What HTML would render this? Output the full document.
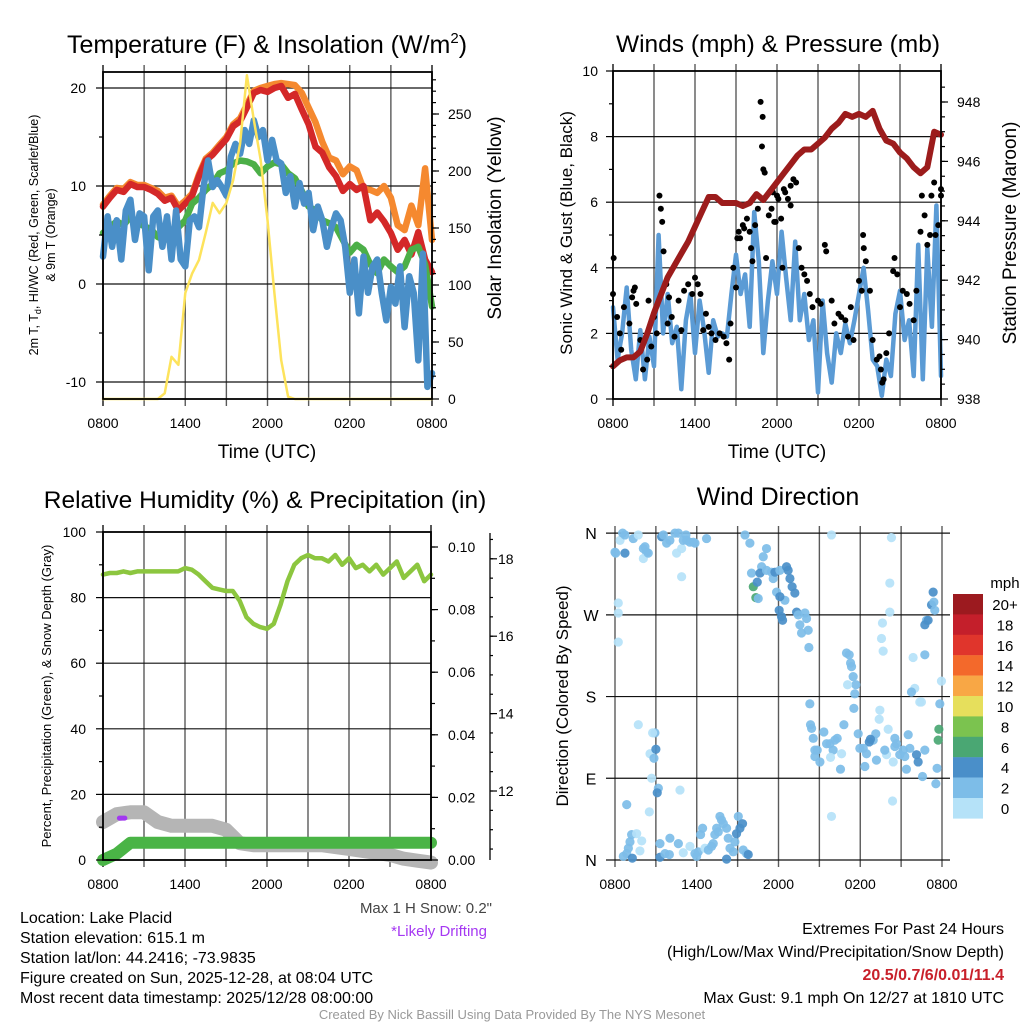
<!DOCTYPE html>
<html><head><meta charset="utf-8"><title>Lake Placid Mesonet</title>
<style>
body{margin:0;background:#fff;}
svg{display:block;font-family:"Liberation Sans",Arial,sans-serif;}
</style></head>
<body>
<svg id="chart" width="1024" height="1024" viewBox="0 0 1024 1024" xmlns="http://www.w3.org/2000/svg">
<rect x="0" y="0" width="1024" height="1024" fill="#fff"/>
<g id="p1"></g>
<g id="p2"></g>
<g id="p3"></g>
<g id="p4"></g>
<g id="txt">
<text x="267" y="53" font-size="25" text-anchor="middle">Temperature (F) &amp; Insolation (W/m<tspan font-size="15" dy="-10">2</tspan><tspan dy="10">)</tspan></text>
<text x="778" y="52" font-size="24.5" text-anchor="middle">Winds (mph) &amp; Pressure (mb)</text>
<text x="265" y="508" font-size="24.5" text-anchor="middle">Relative Humidity (%) &amp; Precipitation (in)</text>
<text x="778" y="505" font-size="25" text-anchor="middle">Wind Direction</text>
<text x="267" y="458" font-size="19" text-anchor="middle">Time (UTC)</text>
<text x="777" y="458" font-size="19" text-anchor="middle">Time (UTC)</text>
<text transform="translate(38,235) rotate(-90)" font-size="12.5" text-anchor="middle">2m T, T<tspan font-size="9" dy="3">d</tspan><tspan dy="-3">, HI/WC (Red, Green, Scarlet/Blue)</tspan></text>
<text transform="translate(55,235) rotate(-90)" font-size="12.5" text-anchor="middle">&amp; 9m T (Orange)</text>
<text transform="translate(501,218) rotate(-90)" font-size="19" text-anchor="middle">Solar Insolation (Yellow)</text>
<text transform="translate(572,233) rotate(-90)" font-size="17" text-anchor="middle">Sonic Wind &amp; Gust (Blue, Black)</text>
<text transform="translate(1016,233) rotate(-90)" font-size="19" text-anchor="middle">Station Pressure (Maroon)</text>
<text transform="translate(51,696) rotate(-90)" font-size="13" text-anchor="middle">Percent, Precipitation (Green), &amp; Snow Depth (Gray)</text>
<text transform="translate(568,696) rotate(-90)" font-size="17" text-anchor="middle">Direction (Colored By Speed)</text>
<text x="492" y="913" font-size="15" fill="#444" text-anchor="end">Max 1 H Snow: 0.2"</text>
<text x="487" y="936" font-size="15" fill="#a538f2" text-anchor="end">*Likely Drifting</text>
<g font-size="16">
<text x="20" y="923">Location: Lake Placid</text>
<text x="20" y="943">Station elevation: 615.1 m</text>
<text x="20" y="963">Station lat/lon: 44.2416; -73.9835</text>
<text x="20" y="983">Figure created on Sun, 2025-12-28, at 08:04 UTC</text>
<text x="20" y="1003">Most recent data timestamp: 2025/12/28 08:00:00</text>
</g>
<g font-size="16" text-anchor="end">
<text x="1004" y="934">Extremes For Past 24 Hours</text>
<text x="1004" y="957">(High/Low/Max Wind/Precipitation/Snow Depth)</text>
<text x="1004" y="980" fill="#c8202a" font-weight="bold">20.5/0.7/6/0.01/11.4</text>
<text x="1004" y="1003">Max Gust: 9.1 mph On 12/27 at 1810 UTC</text>
</g>
<text x="512" y="1019" font-size="13" fill="#999" text-anchor="middle">Created By Nick Bassill Using Data Provided By The NYS Mesonet</text>
</g>
</svg>
<script>
// ---------- DATA ----------
const timeLabels = ["0800","1400","2000","0200","0800"];
// Panel 1 (half-hourly, 49 pts)
const tempRed = [7.9,8.8,9.6,9.4,10.2,9.9,9.9,9.6,9.2,8.5,8.8,7.5,8.2,9.0,11.0,12.6,13.2,14.0,14.8,16.1,16.6,18.0,19.5,19.8,19.6,20.0,20.2,19.0,19.4,17.8,16.3,14.0,13.4,11.9,11.0,9.5,10.2,9.6,10.0,6.5,7.3,6.4,5.2,3.5,4.5,3.0,5.3,2.5,1.2];
const tempOrange = [8.1,9.0,9.8,9.7,10.4,10.1,10.1,9.8,9.5,8.8,9.0,7.9,8.5,9.2,11.2,12.8,13.4,14.2,15.0,16.3,16.9,18.3,19.7,20.0,20.2,20.4,20.5,20.4,20.3,19.5,18.0,16.5,14.5,12.9,12.6,11.2,12.0,11.6,9.7,9.6,9.3,10.0,8.8,6.0,5.5,8.0,6.0,11.8,4.5];
const dewGreen = [5.2,5.8,6.4,6.0,6.9,6.3,5.9,5.6,4.8,4.5,5.2,5.8,6.5,8.2,8.8,9.6,10.2,11.3,11.6,12.3,12.6,12.5,12.2,11.3,12.0,12.4,12.2,11.3,10.8,9.5,7.9,7.5,6.5,6.2,5.8,4.5,3.2,4.0,3.5,2.0,1.1,2.5,1.8,1.2,1.8,3.5,3.8,2.0,-2.3];
const solarYellow = [0,0,0,0,0,0,0,0,0,5,37,30,93,110,122,146,172,163,172,192,224,284,245,210,157,93,34,2,0,0,0,0,0,0,0,0,0,0,0,0,0,0,0,0,0,0,0,0,0];
// 20-minute (73 pts)
const windChillBlue = [2.8,6.9,3.8,6.5,2.5,7.5,8.6,4.5,7.2,6.9,1.4,6.9,7.5,3.8,6.9,2.5,7.5,2.5,1.8,6.5,6.9,5.8,9.9,12.6,9.9,10.6,9.9,9.0,13.0,14.3,13.3,15.7,14.3,16.7,15.0,15.7,12.6,14.7,12.6,12.3,9.3,11.0,7.9,10.3,8.2,9.3,5.5,7.9,6.5,3.8,5.8,7.2,6.5,3.8,-0.9,2.5,-3.0,2.8,-0.9,1.8,2.5,-0.9,-3.7,-0.3,-2.0,1.8,-4.4,0.8,-0.9,-7.8,3.1,-10.5,-9.1];
// Panel 2
const windSpeed = [2.8,1.2,2.0,3.4,1.5,0.6,2.1,0.6,1.9,1.0,5.0,2.0,3.2,1.7,2.2,0.3,2.4,3.2,1.4,3.0,2.1,0.8,2.4,1.9,2.0,1.9,3.2,4.4,3.2,3.8,2.2,5.7,4.2,1.4,3.0,4.2,3.2,5.1,3.7,2.4,4.8,2.4,3.2,1.8,2.4,0.2,3.0,1.4,0.5,2.0,1.4,2.3,1.7,2.4,3.2,4.0,2.7,1.2,1.0,0.1,1.2,0.7,2.6,3.3,1.8,2.4,0.7,4.7,0.6,4.6,2.2,5.9,0.7];
const pressure = [939.1,939.3,939.4,939.4,939.6,940.2,940.9,941.5,942.1,942.5,942.9,943.3,943.8,944.3,944.8,944.8,944.6,944.6,944.6,944.5,944.6,944.9,944.7,945.0,945.3,945.6,945.9,946.2,946.4,946.4,946.6,946.8,947.1,947.3,947.6,947.5,947.6,947.5,947.7,947.1,946.7,946.6,946.3,946.1,945.8,945.6,945.8,947.0,946.9];
const gustHours = [0.05,0,0.3,0.5,0.6,0.8,1.2,1.4,1.5,1.6,1.7,2.0,2.2,2.5,2.6,2.8,3.0,3.2,3.4,3.5,3.6,3.7,3.9,4.0,4.1,4.3,4.5,4.8,5.0,5.2,5.5,5.8,6.0,6.2,6.4,6.6,6.8,7.0,7.2,7.5,7.8,8.1,8.3,8.5,8.6,8.8,9.0,9.1,9.2,9.3,9.5,9.6,9.8,10.0,10.1,10.2,10.4,10.6,10.8,10.9,10.95,11.0,11.1,11.2,11.4,11.6,11.7,11.8,11.9,12.0,12.1,12.3,12.4,12.5,12.6,12.8,13.0,13.0,13.2,13.4,13.6,13.8,14.0,14.2,14.4,14.6,15.0,15.2,15.5,15.6,16.0,16.2,16.5,16.7,17.0,17.2,17.4,17.6,18.0,18.2,18.3,18.35,18.5,18.8,19.0,19.3,19.5,19.6,19.7,19.8,20.0,20.2,20.5,20.6,20.8,21.0,21.2,21.5,21.7,22.0,22.2,22.5,22.6,22.8,23.0,23.2,23.3,23.5,23.6,23.8,24,24];
const gustValues = [4.3,3.2,2.5,2.0,1.5,2.8,2.3,3.1,3.3,3.4,2.9,1.8,0.9,1.2,3.0,1.6,2.5,2.0,6.2,5.8,5.4,4.5,3.5,2.3,3.1,2.5,1.9,3.0,2.1,3.3,3.5,3.2,3.7,3.5,3.2,2.1,2.6,2.2,2.0,1.8,2.0,1.9,1.7,1.2,2.3,4.0,3.4,4.9,5.1,4.9,5.3,5.2,5.5,5.1,4.6,4.2,5.3,5.8,9.06,7.7,8.6,7.0,6.9,4.3,5.6,5.8,6.3,5.4,5.4,6.2,6.1,5.5,4.0,6.4,6.3,6.1,5.9,6.5,6.7,6.6,4.6,4.0,3.8,3.6,3.2,2.8,3.0,2.9,4.7,4.5,3.0,2.3,2.6,2.5,2.4,1.9,2.8,1.8,3.6,3.3,5.0,4.6,4.2,3.3,1.8,1.2,1.3,0.9,0.5,0.6,1.4,2.0,3.9,4.3,3.8,2.8,3.3,3.2,2.9,2.4,3.3,5.1,6.2,5.6,4.7,5.0,6.2,6.6,5.0,5.3,6.4,6.2];
// Panel 3
const rhPercent = [87,87.5,87.5,88,87.5,88,88,88,88,88,88,88,89,88.5,87,85,83,82.5,82,82,79,74,72,71,70.5,72,78,85,90,92,93,92,92,91,93,90,92,89,90,88,90,87,89,91,86,88,90,85,87];
const precipIn = [0,0.002,0.0055,0.0055,0.0055,0.0055,0.0055,0.0055,0.0055,0.0055,0.0055,0.0055,0.0055,0.0055,0.0055,0.0055,0.0055,0.0055,0.0055,0.0055,0.0055,0.0055,0.0055,0.0055,0.0055];
const snowDepth = [11.2,11.4,11.45,11.45,11.2,11.1,11.1,11.1,11.1,11.0,10.65,10.6,10.6,10.6,10.6,10.6,10.6,10.55,10.5,10.45,10.4,10.35,10.25,10.2,10.15];
const driftHours = [1.2,1.6];
const driftDepth = [11.3,11.3];
// Panel 4
const dirHours = [0.0,0.05,0.37,0.56,0.73,0.73,1.34,1.71,2.08,2.2,2.32,2.08,2.44,3.42,3.55,3.79,4.03,4.4,4.52,4.65,4.89,5.01,5.21,5.26,5.5,5.75,5.87,6.72,4.89,0.24,0.24,0.24,9.54,9.9,11.12,10.88,10.76,10.02,10.64,10.15,10.34,10.51,10.44,11.12,11.49,11.61,11.74,12.1,12.59,12.71,12.84,13.0,13.2,12.47,11.86,12.1,12.05,12.22,12.3,13.33,13.45,13.94,13.57,13.69,14.18,14.06,14.23,15.89,20.29,20.17,20.17,19.63,19.56,19.68,21.88,22.0,21.76,22.37,22.49,22.74,22.86,22.74,22.98,23.23,23.4,23.35,23.47,23.96,23.84,23.77,23.72,23.64,23.55,22.57,22.74,22.13,22.25,21.52,21.64,21.15,21.27,21.39,20.9,20.54,20.66,20.54,20.42,20.05,19.93,19.8,19.39,19.44,19.14,19.19,18.95,18.66,18.75,18.46,18.34,18.22,17.97,17.85,17.53,17.6,17.68,17.48,17.36,17.29,16.99,17.19,17.07,16.8,16.63,16.55,16.31,16.14,16.01,15.77,15.82,15.53,15.33,15.04,14.84,14.67,14.67,14.55,14.43,14.35,14.3,15.89,20.37,4.77,3.18,3.1,2.69,2.57,2.86,3.0,2.93,2.76,1.71,0.86,2.52,1.22,1.1,0.98,0.86,0.61,1.27,1.59,1.96,1.83,3.3,3.3,3.67,3.99,4.03,4.65,5.01,5.5,5.87,5.99,6.11,6.28,6.43,6.6,6.85,7.09,7.21,7.33,7.46,7.58,7.7,7.82,7.95,8.19,8.31,8.44,8.68,8.8,8.92,9.05,9.17,9.36,9.41,9.66,9.78,8.19];
const dirDegrees = [339,338,352,360,358,338,354,358,343,345,339,332,338,356,358,349,352,360,338,360,343,352,358,352,350,350,349,354,312,283,272,240,358,349,343,334,323,316,316,301,289,288,306,319,317,310,317,319,323,319,310,301,294,286,295,290,275,268,264,273,270,272,259,250,253,266,234,358,355,305,273,261,244,230,223,189,185,174,174,226,264,259,264,281,284,295,275,197,172,144,132,101,84,92,121,116,108,138,123,121,114,100,116,134,128,125,108,144,116,121,155,165,139,110,132,130,133,117,103,123,123,139,167,183,193,202,213,217,228,226,193,149,117,100,134,132,121,128,113,128,141,108,121,121,114,134,145,149,172,48,65,77,79,74,90,117,112,122,140,140,149,61,53,28,20,13,7,4,2,29,21,10,18,3,7,6,24,18,8,15,7,4,9,28,35,13,11,15,18,28,35,31,48,44,40,35,24,13,9,20,29,48,35,40,11,7,6,1];
const dirSpeeds = [3,3,1,3,3,4,3,1,3,3,3,1,2,5,3,3,3,3,1,3,1,3,3,3,3,3,3,3,1,1,1,1,3,3,3,3,3,3,5,7,7,3,5,3,3,3,5,3,5,5,5,5,5,3,3,5,5,5,5,5,3,3,3,3,3,3,3,1,1,1,1,1,1,1,1,1,3,1,1,3,3,5,5,5,3,5,3,1,3,7,7,3,3,3,3,5,5,3,3,3,3,3,3,3,3,3,1,1,1,3,1,1,3,3,3,5,5,3,3,3,3,3,3,3,3,3,3,3,3,3,1,3,1,3,3,3,3,3,1,3,3,3,3,3,3,3,3,3,3,1,1,1,3,5,1,1,3,5,3,1,1,3,1,3,3,3,3,3,5,1,1,1,3,5,3,3,3,3,1,1,3,3,3,3,3,1,3,3,3,3,3,3,3,3,3,3,3,3,3,3,5,3,5,5,3,3,5,5,1];
const legendLabels = ["20+","18","16","14","12","10","8","6","4","2","0"];
const legendColors = ["#9c1a1f","#c41f2b","#e0352c","#f3692b","#f8a745","#e6df5c","#7bc34f","#4aa773","#4a8fc9","#7dbde8","#b5e2f8"];

// ---------- HELPERS ----------
const NS="http://www.w3.org/2000/svg";
function el(parent, tag, attrs){const e=document.createElementNS(NS,tag);for(const k in attrs)e.setAttribute(k,attrs[k]);parent.appendChild(e);return e;}
function txt(parent,x,y,s,size,anchor){const t=el(parent,'text',{x:x,y:y,'font-size':size,'text-anchor':anchor||'middle'});t.textContent=s;return t;}
function mkX(x0,x1){return h=>x0+(h/24)*(x1-x0);}
function drawGridFrame(g,x0,x1,y0,y1,xS,hLines){
  for(let h=0;h<=24;h+=3){
    const x=xS(h);
    const l=el(g,'line',{x1:x,y1:y0-7,x2:x,y2:y1+7,stroke:(h===0||h===24)?'#111':'#5a5a5a','stroke-width':1.4});
    
    
  }
  hLines.forEach(y=>{
    const l=el(g,'line',{x1:x0,y1:y,x2:x1,y2:y,stroke:'#111','stroke-width':1.2});
    
    
  });
  timeLabels.forEach((s,i)=>{
    const t=txt(g,xS(i*6),y1+29,s,14);
    
    
  });
}
function line(g,vals,step,xS,yS,color,w,name){
  const pts=vals.map((v,i)=>xS(i*step).toFixed(1)+','+yS(v).toFixed(1)).join(' ');
  const p=el(g,'polyline',{points:pts,fill:'none',stroke:color,'stroke-width':w,'stroke-linejoin':'round','stroke-linecap':'round'});
  
  
  return p;
}
function frame(g,x0,x1,y0,y1){
  const r=el(g,'rect',{x:x0,y:y0,width:x1-x0,height:y1-y0,fill:'none',stroke:'#000','stroke-width':1.8});
  
  
}
function ticks(g,x,vals,yS,len,labels,lx,anchor){
  vals.forEach(v=>{
    const t=el(g,'line',{x1:x,y1:yS(v),x2:x+len,y2:yS(v),stroke:'#000','stroke-width':1.2});
    
    
  });
  if(labels)labels.forEach(([v,s])=>{
    const t=txt(g,lx,yS(v)+5,s,14,anchor);
    
    
  });
}
function range(a,b,s){const r=[];for(let v=a;v<=b+1e-9;v+=s)r.push(+v.toFixed(3));return r;}

// ---------- PANEL 1 ----------
(function(){
  const g=document.getElementById('p1');
  const x0=103,x1=432,y0=72,y1=399;
  const xS=mkX(x0,x1), yS=v=>284-v*9.8, ySol=v=>399-v*1.14;
  drawGridFrame(g,x0,x1,y0,y1,xS,[yS(20),yS(10),yS(0),yS(-10)]);
  line(g,tempOrange,0.5,xS,yS,'#f5892f',6.5,'orange-9m-temp-line');
  line(g,tempRed,0.5,xS,yS,'#d42828',6.5,'red-2m-temp-line');
  line(g,dewGreen,0.5,xS,yS,'#4caf48',6.5,'green-dewpoint-line');
  line(g,windChillBlue,1/3,xS,yS,'#4a8fc8',6.5,'blue-windchill-line');
  line(g,solarYellow,0.5,xS,ySol,'#fde35c',2.5,'yellow-insolation-line');
  frame(g,x0,x1,y0,y1);
  ticks(g,x0,[20,10,0,-10],yS,-7,[[20,'20'],[10,'10'],[0,'0'],[-10,'-10']],86,'end');
  ticks(g,x0,[15,5,-5],yS,-4);
  ticks(g,x1,range(0,250,50),ySol,7,[[0,'0'],[50,'50'],[100,'100'],[150,'150'],[200,'200'],[250,'250']],448,'start');
  ticks(g,x1,range(10,280,10),ySol,4);
})();

// ---------- PANEL 2 ----------
(function(){
  const g=document.getElementById('p2');
  const x0=613,x1=941,y0=71,y1=399;
  const xS=mkX(x0,x1), yS=v=>399-v*32.8, yP=p=>399-(p-938)*29.7;
  drawGridFrame(g,x0,x1,y0,y1,xS,[yS(2),yS(4),yS(6),yS(8)]);
  line(g,windSpeed,1/3,xS,yS,'#5b9bd5',4.5,'blue-wind-speed-line');
  gustHours.forEach((h,i)=>{
    const c=el(g,'circle',{cx:xS(h),cy:yS(gustValues[i]),r:3,fill:'#000'});
    
    
  });
  line(g,pressure,0.5,xS,yP,'#9c1c1c',6,'maroon-pressure-line');
  frame(g,x0,x1,y0,y1);
  ticks(g,x0,[0,2,4,6,8,10],yS,-7,[[0,'0'],[2,'2'],[4,'4'],[6,'6'],[8,'8'],[10,'10']],598,'end');
  ticks(g,x0,[1,3,5,7,9],yS,-4);
  ticks(g,x1,[938,940,942,944,946,948],yP,7,[[938,'938'],[940,'940'],[942,'942'],[944,'944'],[946,'946'],[948,'948']],957,'start');
  ticks(g,x1,range(938.5,948.5,0.5),yP,4);
})();

// ---------- PANEL 3 ----------
(function(){
  const g=document.getElementById('p3');
  const x0=103,x1=431,y0=532,y1=860;
  const xS=mkX(x0,x1), yS=v=>860-v*3.28, yPr=v=>860-v*3130, ySn=d=>791+(12-d)*38.7;
  drawGridFrame(g,x0,x1,y0,y1,xS,[yS(20),yS(40),yS(60),yS(80)]);
  line(g,snowDepth,1,xS,ySn,'#b5b5b5',14,'gray-snow-depth-line');
  const dp=el(g,'line',{x1:xS(driftHours[0]),y1:ySn(driftDepth[0]),x2:xS(driftHours[1]),y2:ySn(driftDepth[1]),stroke:'#a238f0','stroke-width':5,'stroke-linecap':'round'});
  
  
  line(g,precipIn,1,xS,yPr,'#4ab446',12,'green-precipitation-line');
  line(g,rhPercent,0.5,xS,yS,'#8cc63f',4.5,'light-green-humidity-line');
  frame(g,x0,x1,y0,y1);
  ticks(g,x0,[0,20,40,60,80,100],yS,-7,[[0,'0'],[20,'20'],[40,'40'],[60,'60'],[80,'80'],[100,'100']],86,'end');
  ticks(g,x0,[10,30,50,70,90],yS,-4);
  ticks(g,x1,[0,0.02,0.04,0.06,0.08,0.1],yPr,7,[[0,'0.00'],[0.02,'0.02'],[0.04,'0.04'],[0.06,'0.06'],[0.08,'0.08'],[0.1,'0.10']],448,'start');
  ticks(g,x1,range(0.01,0.1,0.01),yPr,4);
  const ax=el(g,'line',{x1:490,y1:533,x2:490,y2:860,stroke:'#000','stroke-width':1.3});
  
  
  ticks(g,490,[12,14,16,18],ySn,7,[[12,'12'],[14,'14'],[16,'16'],[18,'18']],498,'start');
  ticks(g,490,range(10.5,18.5,0.5),ySn,3);
})();

// ---------- PANEL 4 ----------
(function(){
  const g=document.getElementById('p4');
  const x0=615,x1=942,y0=533,y1=860;
  const xS=mkX(x0,x1), yS=d=>860-d*0.908;
  for(let h=0;h<=24;h+=3){
    const l=el(g,'line',{x1:xS(h),y1:y0-7,x2:xS(h),y2:y1+7,stroke:'#5a5a5a','stroke-width':1.4});
    
    
  }
  [0,90,180,270,360].forEach(d=>{
    const l=el(g,'line',{x1:606,y1:yS(d),x2:950,y2:yS(d),stroke:'#111','stroke-width':1.2});
    
    
  });
  [[0,'N'],[90,'E'],[180,'S'],[270,'W'],[360,'N']].forEach(([d,s])=>{
    const t=txt(g,591,yS(d)+6,s,16);
    
    
  });
  timeLabels.forEach((s,i)=>{
    const t=txt(g,xS(i*6),889,s,14);
    
    
  });
  function col(s){const idx=Math.min(10,Math.floor(s/2));return legendColors[10-idx];}
  dirHours.forEach((h,i)=>{
    const c=el(g,'circle',{cx:xS(h),cy:yS(dirDegrees[i]),r:4.6,fill:col(dirSpeeds[i]),'fill-opacity':0.92});
    
    
  });
  const lg=el(g,'g',{});
  
  
  const mt=txt(lg,1005,588,'mph',15);
  
  
  legendLabels.forEach((s,i)=>{
    const y=594+i*20.4;
    const r=el(lg,'rect',{x:953,y:y,width:30,height:20.6,fill:legendColors[i]});
    
    
    const t=txt(lg,1005,y+16,s,15);
    
    
  });
})();
</script>
</body></html>
